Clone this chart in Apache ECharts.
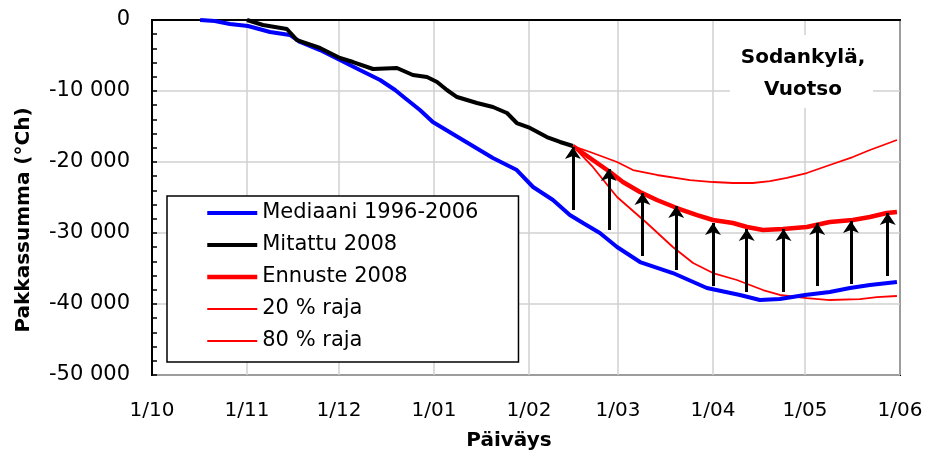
<!DOCTYPE html>
<html><head><meta charset="utf-8">
<script src="https://cdn.jsdelivr.net/npm/echarts@6/dist/echarts.min.js"></script>
<style>html,body{margin:0;padding:0;background:#fff}#c{width:936px;height:452px}</style>
</head><body><div id="c"></div>
<script>
// x = days since 1 October
const monthDays = [0, 31, 61, 92, 123, 152, 183, 213, 244];
const monthLabels = ['1/10', '1/11', '1/12', '1/01', '1/02', '1/03', '1/04', '1/05', '1/06'];
const yTicks = [0, -10000, -20000, -30000, -40000, -50000];
const yTickLabels = ['0', '-10 000', '-20 000', '-30 000', '-40 000', '-50 000'];

const medianDays = [15.7, 20.5, 25.4, 31.3, 38.5, 45, 48.3, 54.8, 61.3, 67.8, 74.4, 79.3, 82.5, 87.4, 91.6, 101.4, 111.2, 119, 124.3, 130.8, 136.3, 140.6, 146.1, 151.7, 159.2, 169.9, 181, 191.8, 198.3, 204.8, 213, 221.1, 227.7, 234.2, 243];
const medianVals = [0, -150, -560, -850, -1690, -2110, -3100, -4230, -5630, -7040, -8450, -9860, -10990, -12680, -14370, -16900, -19440, -21130, -23520, -25350, -27470, -28590, -30000, -31970, -34090, -35640, -37750, -38730, -39440, -39300, -38730, -38310, -37750, -37330, -36900];

const measuredDays = [31, 36.2, 44, 47.3, 54.8, 61.3, 65.6, 72.1, 79.9, 85.1, 89.7, 93, 96.2, 99.5, 106, 111.2, 115.8, 119, 123.3, 128.8, 133.1, 137.3];
const measuredVals = [0, -700, -1270, -2820, -3940, -5350, -5920, -6900, -6760, -7750, -8030, -8730, -9860, -10850, -11690, -12250, -13100, -14510, -15210, -16480, -17180, -17750];

const forecastDays = [137.3, 143.8, 149.4, 153.6, 159.2, 164.7, 171.2, 177.8, 183, 189.5, 194.1, 199.3, 205.8, 213.6, 221.1, 228.6, 234.2, 239.7, 243];
const forecastVals = [-17750, -19720, -21410, -22820, -24230, -25350, -26480, -27470, -28170, -28590, -29160, -29580, -29440, -29160, -28450, -28170, -27750, -27180, -27040];

const p20Days = [137.3, 142.9, 151.7, 156.9, 164.7, 175.5, 183, 189.5, 196, 201.6, 207.1, 213.6, 221.1, 228.6, 234.2, 243];
const p20Vals = [-17750, -18590, -20000, -21130, -21830, -22540, -22820, -22960, -22960, -22680, -22250, -21550, -20420, -19300, -18310, -16900];

const p80Days = [137.3, 143.8, 151.7, 161.4, 169.9, 176.5, 183, 190.8, 199.3, 204.8, 213.6, 221.1, 230.9, 236.5, 243];
const p80Vals = [-17750, -20700, -24930, -28590, -31970, -34230, -35640, -36620, -38030, -38730, -39160, -39440, -39300, -39020, -38870];

const arrowDays = [137.3, 149, 160, 171, 183, 194, 206, 217, 228, 240];
const arrowFrom = [-26760, -29580, -33240, -35210, -37460, -38310, -38310, -37460, -37180, -36060];
const arrowTo = [-17890, -20990, -24370, -26200, -28590, -29440, -29440, -28590, -28310, -27180];

const FONT = 'DejaVu Sans';
const zip = (a, b) => a.map((v, i) => [v, b[i]]);

const chart = echarts.init(document.getElementById('c'), null, {renderer: 'canvas'});
chart.setOption({
  animation: false,
  backgroundColor: '#fff',
  grid: {left: 152, right: 36, top: 20, bottom: 77, show: true, borderColor: '#000', borderWidth: 2, backgroundColor: 'transparent', outerBoundsMode: 'none'},
  xAxis: {
    type: 'value', min: 0, max: 244,
    axisLine: {show: true, lineStyle: {color: '#000', width: 2}},
    axisTick: {show: false, customValues: monthDays},
    axisLabel: {customValues: monthDays, margin: 26, fontFamily: FONT, fontSize: 20, color: '#000',
      formatter: v => monthLabels[monthDays.indexOf(v)] || ''},
    splitLine: {show: true, lineStyle: {color: '#d0d0d0', width: 1.5}}
  },
  yAxis: {
    type: 'value', min: -50000, max: 0, interval: 10000,
    axisLine: {show: true, lineStyle: {color: '#000', width: 2}},
    axisTick: {show: true, inside: true, length: 5, lineStyle: {color: '#000', width: 1.5}},
    minorTick: {show: true, splitNumber: 5, length: 5, lineStyle: {color: '#000', width: 1.5}},
    axisLabel: {margin: 22, fontFamily: FONT, fontSize: 21, color: '#000',
      formatter: v => { const i = yTicks.indexOf(v); return i >= 0 ? yTickLabels[i] : ''; }},
    splitLine: {show: true, lineStyle: {color: '#d0d0d0', width: 1.5}}
  },
  legend: {
    left: 167, top: 196, orient: 'vertical',
    data: [
      {name: 'Mediaani 1996-2006', lineStyle: {width: 4}},
      {name: 'Mitattu 2008', lineStyle: {width: 4}},
      {name: 'Ennuste 2008', lineStyle: {width: 4.5}},
      {name: '20 % raja', lineStyle: {width: 1.8}},
      {name: '80 % raja', lineStyle: {width: 1.8}}
    ],
    itemStyle: {opacity: 0},
    backgroundColor: '#fff', borderColor: '#000', borderWidth: 1.5,
    padding: [5, 40, 9, 38], itemWidth: 50, itemHeight: 14, itemGap: 8,
    textStyle: {fontFamily: FONT, fontSize: 21, color: '#000', lineHeight: 24},
    z: 10
  },
  graphic: [
    {type: 'rect', z: 50, shape: {x: 730, y: 35, width: 143, height: 73}, style: {fill: '#fff'}},
    {type: 'text', z: 51, x: 803, y: 58, style: {text: 'Sodankylä,', font: 'bold 20px "DejaVu Sans"', fill: '#000', align: 'center', verticalAlign: 'middle'}},
    {type: 'text', z: 51, x: 803, y: 90, style: {text: 'Vuotso', font: 'bold 20px "DejaVu Sans"', fill: '#000', align: 'center', verticalAlign: 'middle'}},
    {type: 'text', z: 51, x: 24, y: 220, rotation: Math.PI / 2, style: {text: 'Pakkassumma (°Ch)', font: 'bold 20px "DejaVu Sans"', fill: '#000', align: 'center', verticalAlign: 'middle'}},
    {type: 'text', z: 51, x: 509, y: 441, style: {text: 'Päiväys', font: 'bold 20px "DejaVu Sans"', fill: '#000', align: 'center', verticalAlign: 'middle'}}
  ],
  series: [
    {name: 'Mediaani 1996-2006', type: 'line', data: zip(medianDays, medianVals), symbol: 'none', lineStyle: {color: '#0000ff', width: 4}, itemStyle: {color: '#0000ff'}, z: 3},
    {name: '20 % raja', type: 'line', data: zip(p20Days, p20Vals), symbol: 'none', lineStyle: {color: '#ff0000', width: 1.8}, itemStyle: {color: '#ff0000'}, z: 2},
    {name: '80 % raja', type: 'line', data: zip(p80Days, p80Vals), symbol: 'none', lineStyle: {color: '#ff0000', width: 1.8}, itemStyle: {color: '#ff0000'}, z: 2},
    {name: 'Ennuste 2008', type: 'line', data: zip(forecastDays, forecastVals), symbol: 'none', lineStyle: {color: '#ff0000', width: 4.5}, itemStyle: {color: '#ff0000'}, z: 3},
    {name: 'Mitattu 2008', type: 'line', data: zip(measuredDays, measuredVals), symbol: 'none', lineStyle: {color: '#000', width: 4}, itemStyle: {color: '#000'}, z: 4},
    {name: 'arrows', type: 'lines', coordinateSystem: 'cartesian2d', z: 5,
      symbol: ['none', 'arrow'], symbolSize: [8, 12],
      lineStyle: {color: '#000', width: 3, opacity: 1},
      data: arrowDays.map((d, i) => ({coords: [[d, arrowFrom[i]], [d, arrowTo[i]]]}))}
  ]
});
</script></body></html>
